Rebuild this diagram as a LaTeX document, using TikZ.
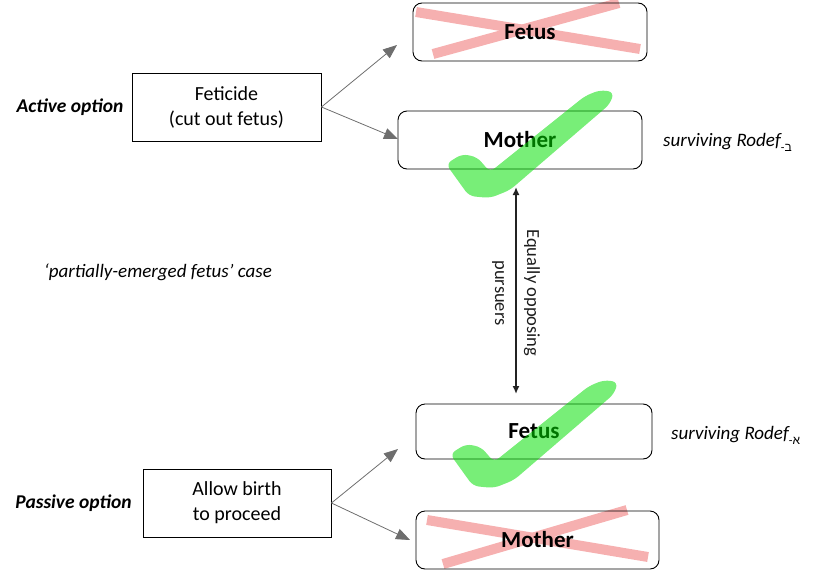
\documentclass[tikz,border=0pt]{standalone}
\usepackage{fontspec}
\setmainfont{Carlito}
\newfontfamily\hebfont[Script=Hebrew]{Liberation Sans}
\usetikzlibrary{arrows.meta,calc}
\definecolor{xpink}{RGB}{246,176,176}
\definecolor{ckgreen}{RGB}{0,222,0}
\definecolor{arrgray}{RGB}{110,110,110}
\tikzset{
  optbox/.style={draw=black, line width=0.9pt, minimum width=#1, inner sep=0pt, align=center, font=\fontsize{20}{25}\selectfont},
  resbox/.style={draw=black, line width=0.9pt, rounded corners=9pt, inner sep=0pt, font=\fontsize{23}{25}\selectfont\bfseries},
  conn/.style={draw=arrgray, line width=0.8pt, -{Triangle[length=14pt,width=11pt]}, arrgray},
  lbl/.style={font=\fontsize{19.5}{24}\selectfont\bfseries\itshape, inner sep=0pt},
  surv/.style={font=\fontsize{19}{24}\selectfont\itshape, inner sep=0pt, anchor=base west},
  xmark/.style={draw=xpink, line width=10pt},
  checkmark/.style={fill=ckgreen, fill opacity=0.53, rounded corners=6pt}
}
\newcommand{\hebsub}[1]{\raisebox{-5pt}{\fontsize{12}{12}\selectfont\upshape -{\hebfont #1}}}
\begin{document}
\begin{tikzpicture}[x=1pt,y=-1pt]
\useasboundingbox (0,0) rectangle (840,570);
% X marks (behind)
\draw[xmark] (416,12) -- (640,49);
\draw[xmark] (433,54) -- (619,3);
\draw[xmark] (427,520) -- (648,557);
\draw[xmark] (443,564) -- (627,510);
% option boxes
\node[optbox=189pt, minimum height=68pt] (feticide) at (226.5,107) {Feticide\\(cut out fetus)};
\node[optbox=188pt, minimum height=68pt] (allow) at (237,503) {Allow birth\\to proceed};
% result boxes
\node[resbox, minimum width=234pt, minimum height=58pt] (fetusT) at (530,32) {Fetus};
\node[resbox, minimum width=244pt, minimum height=58pt] (motherT) at (520,140) {Mother};
\node[resbox, minimum width=236pt, minimum height=55pt] (fetusB) at (534,431.5) {Fetus};
\node[resbox, minimum width=243pt, minimum height=58pt] (motherB) at (537.5,540) {Mother};
% side labels
\node[lbl] (active) at (70,107) {Active option};
\node[lbl] (passive) at (73.5,503) {Passive option};
\node[font=\fontsize{19}{24}\selectfont\itshape, inner sep=0pt] (case) at (158,272) {‘partially-emerged fetus’ case};
\node[surv] (survT) at (663,146) {surviving Rodef\hebsub{ב}};
\node[surv] (survB) at (671,439) {surviving Rodef\hebsub{א}};
% connectors
\coordinate (tA) at (397,45);
\coordinate (tB) at (398,139);
\coordinate (tC) at (398,449);
\coordinate (tD) at (410,540);
\draw[conn] (feticide.east) -- (tA);
\draw[conn] (feticide.east) -- (tB);
\draw[conn] (allow.east) -- (tC);
\draw[conn] (allow.east) -- (tD);
% vertical double arrow
\coordinate (vTop) at (516,187);
\coordinate (vBot) at (516,394);
\draw[line width=1.8pt, draw={rgb,255:red,35;green,35;blue,35}, {Latex[length=8pt,width=7pt]}-{Latex[length=8pt,width=7pt]}] (vTop) -- (vBot);
\node[rotate=-90, align=center, font=\fontsize{18.5}{32}\selectfont, text={rgb,255:red,30;green,30;blue,30}, inner sep=0pt] (eq) at (516,293) {Equally opposing\\pursuers};
% checkmarks (over text)
\fill[checkmark] (446,164) -- (462,154) -- (477,157) -- (490,172) -- (585,96) -- (600,90) -- (614,92) -- (610,104) -- (510,190) -- (490,198) -- (469,196) -- cycle;
\begin{scope}[shift={(4,290)}]
\fill[checkmark] (446,164) -- (462,154) -- (477,157) -- (490,172) -- (585,96) -- (600,90) -- (614,92) -- (610,104) -- (510,190) -- (490,198) -- (469,196) -- cycle;
\end{scope}
\end{tikzpicture}
\end{document}
